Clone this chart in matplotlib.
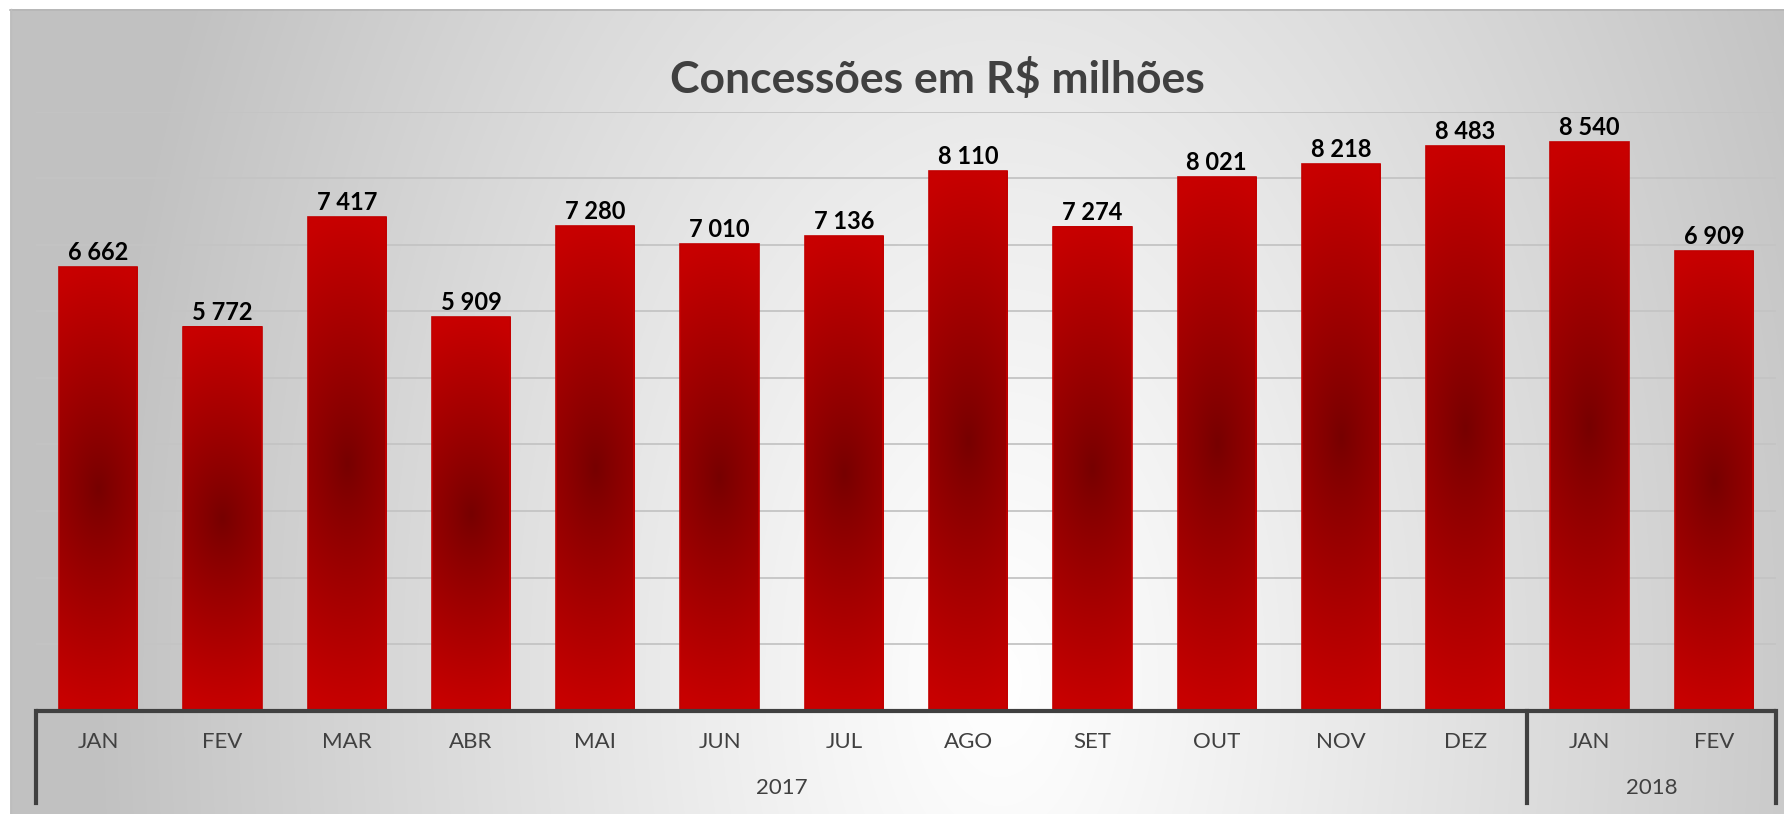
import numpy as np
import matplotlib
matplotlib.use('Agg')
import matplotlib.pyplot as plt
import matplotlib.transforms as mtransforms

plt.rcParams['font.family'] = ['Lato', 'DejaVu Sans']

# data
months = ['JAN', 'FEV', 'MAR', 'ABR', 'MAI', 'JUN', 'JUL', 'AGO', 'SET', 'OUT', 'NOV', 'DEZ', 'JAN', 'FEV']
values = [6662, 5772, 7417, 5909, 7280, 7010, 7136, 8110, 7274, 8021, 8218, 8483, 8540, 6909]
years = ['2017', '2018']
year_counts = [12, 2]
title = 'Concessões em R$ milhões'

W, H = 1784, 814
fig = plt.figure(figsize=(W / 100, H / 100), dpi=100)
fig.patch.set_facecolor('white')

# background: radial grey -> white gradient, chart area starts at (10, 9)
bg = fig.add_axes([0, 0, 1, 1])
bg.set_xlim(0, W)
bg.set_ylim(H, 0)
bg.axis('off')
yy, xx = np.mgrid[9:H, 10:W]
dx = (xx - 1000) / 900.0
dy = (yy - 680) / 1500.0
d = np.clip(np.sqrt(dx ** 2 + dy ** 2), 0, 1)
g = 1.0 - (1.0 - 0.76) * d ** 1.1
img = np.dstack([g, g, g])
bg.imshow(img, extent=(10, W, H, 9), aspect='auto', interpolation='bilinear')
bg.plot([10, W], [9.5, 9.5], color='#b5b5b5', lw=1.2)
bg.plot([10.5, 10.5], [9, H], color='#bdbdbd', lw=1.0)

# main plot area
left, right = 36, 1776
top, base = 111.7, 710.7
ax = fig.add_axes([left / W, (H - base) / H, (right - left) / W, (base - top) / H])
ax.patch.set_alpha(0)
for s in ax.spines.values():
    s.set_visible(False)
ax.set_xticks([])
ax.set_yticks([])

for gy in range(1000, 9001, 1000):
    ax.axhline(gy, color='#c4c4c4', lw=1.3, zorder=1)

# bars with a dark-centred red gradient
width = 0.63
bright = np.array([200, 0, 0]) / 255.0
dark = np.array([118, 0, 0]) / 255.0
ny, nx = 200, 40
v_, u_ = np.mgrid[0:ny, 0:nx]
vy = (v_ + 0.5) / ny * 2 - 1
ux = (u_ + 0.5) / nx * 2 - 1
t = np.clip(np.sqrt(vy ** 2 + 0.12 * ux ** 2), 0, 1) ** 0.9
grad = dark[None, None, :] + (bright - dark)[None, None, :] * t[:, :, None]

x = np.arange(len(values))
bars = ax.bar(x, values, width=width, color='none', edgecolor='#c30000', lw=1.2, zorder=3)
for xi, v in zip(x, values):
    ax.imshow(grad, extent=(xi - width / 2, xi + width / 2, 0, v), aspect='auto',
              interpolation='bilinear', zorder=2)
    ax.annotate(f'{v:,}'.replace(',', ' '), (xi, v), xytext=(0, 5), textcoords='offset points',
                ha='center', va='baseline', fontsize=17, fontweight='bold', color='black')
ax.set_xlim(-0.5, len(values) - 0.5)
ax.set_ylim(0, 9000)

# category axis (two levels)
trans = mtransforms.blended_transform_factory(ax.transData, ax.transAxes)
ax.plot([-0.5, len(values) - 0.5], [0, 0], transform=trans, color='#404040', lw=3,
        clip_on=False, zorder=5, solid_capstyle='butt')
bounds = [-0.5]
for c in year_counts:
    bounds.append(bounds[-1] + c)
for b in bounds:
    ax.plot([b, b], [0, -0.154], transform=trans, color='#404040', lw=3, clip_on=False, zorder=5)

for xi, m in zip(x, months):
    ax.text(xi, -0.052, m, transform=trans, ha='center', va='center', fontsize=16, color='#404040')
for i, yl in enumerate(years):
    ax.text((bounds[i] + bounds[i + 1]) / 2, -0.129, yl, transform=trans, ha='center',
            va='center', fontsize=16, color='#404040')

fig.text(937 / W, (H - 93) / H, title, ha='center', va='baseline', fontsize=32,
         fontweight='bold', color='#404040')

fig.savefig('out.png', dpi=100)
